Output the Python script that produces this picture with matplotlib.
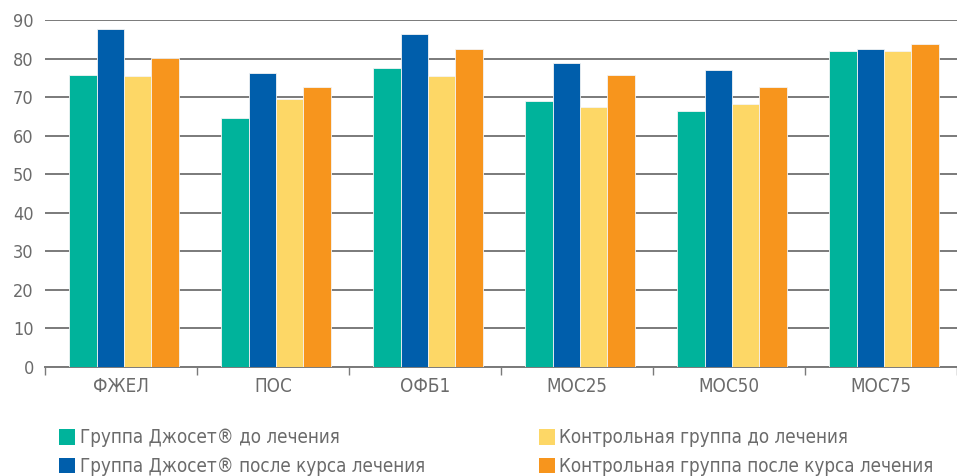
import numpy as np
import matplotlib.pyplot as plt
from matplotlib.patches import Patch
from matplotlib.ticker import MultipleLocator, FixedLocator

categories = ['ФЖЕЛ', 'ПОС', 'ОФБ1', 'МОС25', 'МОС50', 'МОС75']
series_names = ['Группа Джосет® до лечения',
                'Группа Джосет® после курса лечения',
                'Контрольная группа до лечения',
                'Контрольная группа после курса лечения']
joset_before = [75.7, 64.7, 77.6, 69.1, 66.5, 82.0]
joset_after = [87.6, 76.3, 86.4, 78.9, 77.0, 82.5]
control_before = [75.6, 69.5, 75.6, 67.5, 68.2, 81.9]
control_after = [80.1, 72.5, 82.6, 75.7, 72.5, 83.9]

colors = ['#00b39b', '#005eab', '#fdd766', '#f7951d']
text_color = '#6b6b6b'
grid_color = '#7a7a7a'

plt.rcParams['font.family'] = ['DejaVu Sans Condensed', 'DejaVu Sans']
plt.rcParams['font.stretch'] = 'condensed'

fig = plt.figure(figsize=(9.57, 4.76), dpi=100)
ax = fig.add_axes([0.047, 0.229, 0.953, 0.729])

x = np.arange(len(categories))
w = 0.18
all_series = [joset_before, joset_after, control_before, control_after]
for i, (vals, c) in enumerate(zip(all_series, colors)):
    ax.bar(x + (i - 1.5) * w + 0.02, vals, w, color=c, edgecolor='#f4f4f4',
           linewidth=0.6, zorder=3)

ax.set_xlim(-0.5, len(categories) - 0.5)
ax.set_ylim(0, 90)
ax.yaxis.set_major_locator(MultipleLocator(10))
ax.grid(axis='y', color=grid_color, linewidth=1.4, zorder=0)
for s in ['top', 'right', 'left']:
    ax.spines[s].set_visible(False)
ax.spines['bottom'].set_color(grid_color)
ax.spines['bottom'].set_linewidth(1.4)

ax.set_xticks(x)
ax.set_xticklabels(categories)
ax.xaxis.set_minor_locator(FixedLocator(np.arange(-0.5, len(categories) - 0.4, 1)))
ax.tick_params(axis='x', which='major', length=0, pad=7, labelsize=13.5, labelcolor=text_color)
ax.tick_params(axis='x', which='minor', length=6, width=1, color=grid_color)
ax.tick_params(axis='y', length=0, pad=8, labelsize=13, labelcolor=text_color)

handles = [Patch(facecolor=c, edgecolor='none') for c in colors]
leg_kw = dict(loc='upper left', frameon=False, fontsize=13.5, labelcolor=text_color,
              handlelength=0.85, handleheight=0.9, handletextpad=0.25,
              labelspacing=0.5, borderaxespad=0, borderpad=0)
fig.legend(handles[:2], series_names[:2], bbox_to_anchor=(0.062, 0.1), **leg_kw)
fig.legend(handles[2:], series_names[2:], bbox_to_anchor=(0.563, 0.1), **leg_kw)

fig.savefig('out.png', dpi=100)
